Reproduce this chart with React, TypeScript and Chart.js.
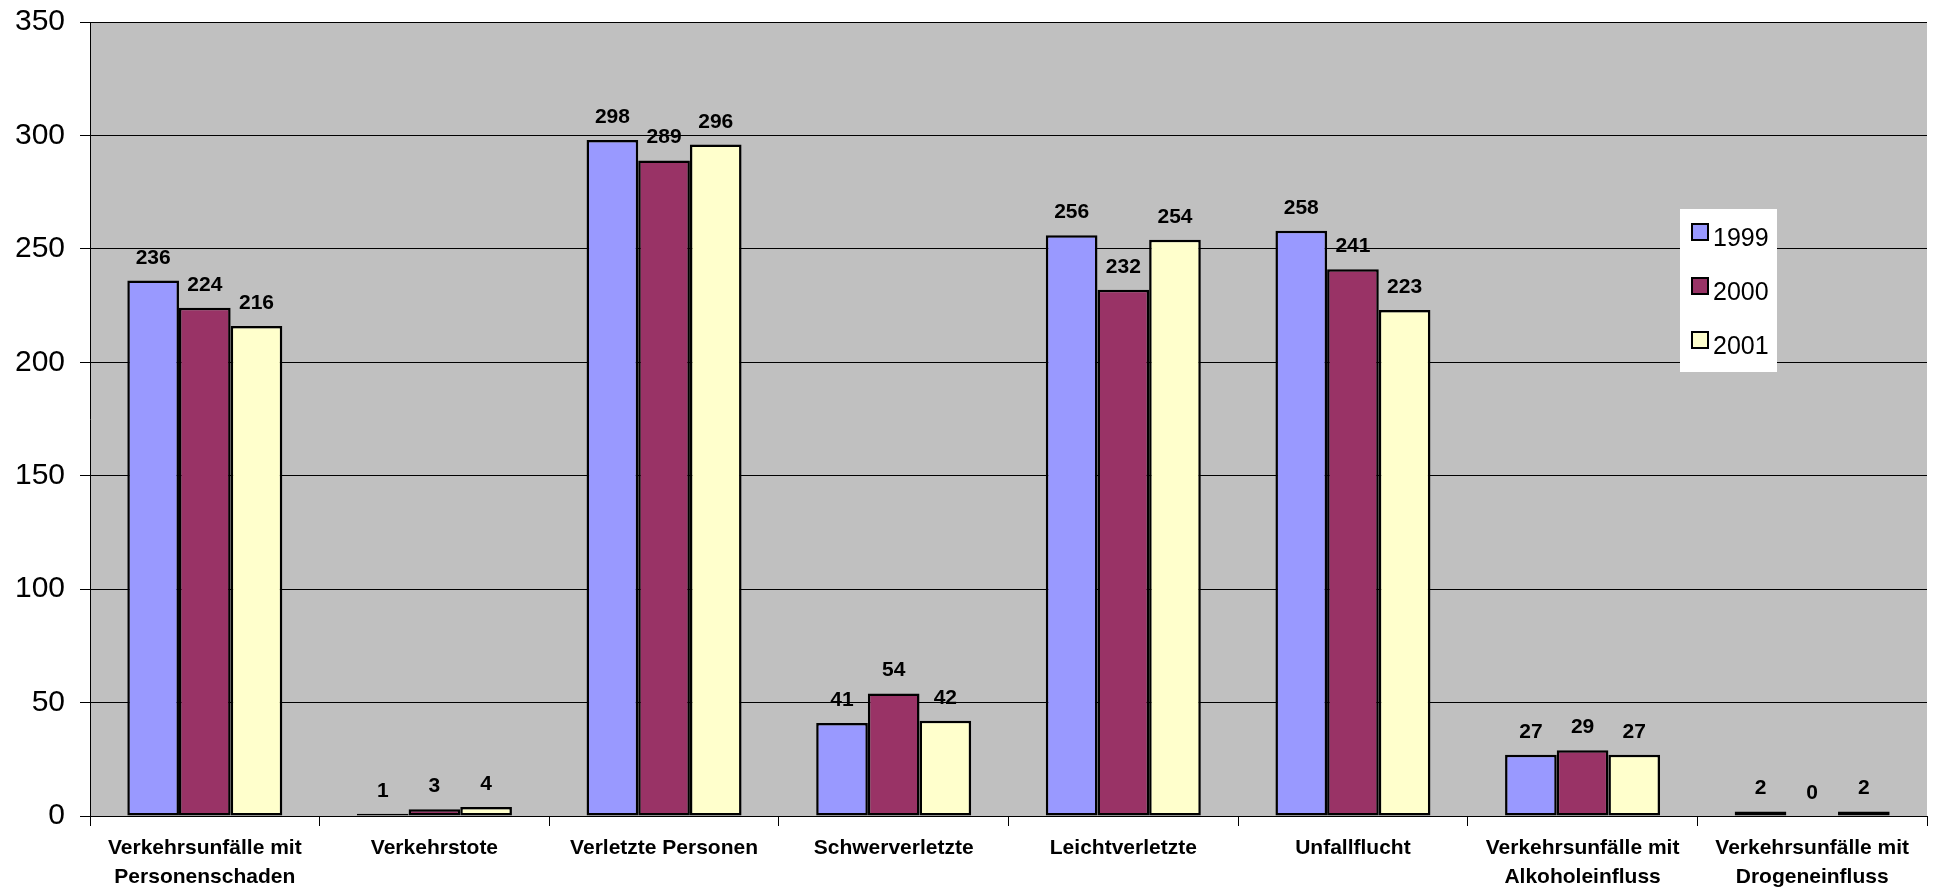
import React, { useEffect, useRef } from "react";
import { Chart, registerables } from "chart.js";

Chart.register(...registerables);

const categories: string[][] = [
  ["Verkehrsunfälle mit", "Personenschaden"],
  ["Verkehrstote"],
  ["Verletzte Personen"],
  ["Schwerverletzte"],
  ["Leichtverletzte"],
  ["Unfallflucht"],
  ["Verkehrsunfälle mit", "Alkoholeinfluss"],
  ["Verkehrsunfälle mit", "Drogeneinfluss"],
];

const seriesNames = ["1999", "2000", "2001"];
const values1999 = [236, 1, 298, 41, 256, 258, 27, 2];
const values2000 = [224, 3, 289, 54, 232, 241, 29, 0];
const values2001 = [216, 4, 296, 42, 254, 223, 27, 2];
const seriesColors = ["#9999FF", "#993366", "#FFFFCC"];

const yMin = 0;
const yMax = 350;
const yStep = 50;

const FONT = "'Liberation Sans', Arial, Helvetica, sans-serif";

const plotBg = {
  id: "plotBg",
  beforeDraw(chart: any) {
    const { ctx, chartArea } = chart;
    ctx.save();
    ctx.fillStyle = "#C0C0C0";
    ctx.fillRect(chartArea.left, chartArea.top, chartArea.right - chartArea.left, chartArea.bottom - chartArea.top);
    ctx.restore();
  },
};

const dataLabels = {
  id: "dataLabels",
  afterDatasetsDraw(chart: any) {
    const { ctx } = chart;
    ctx.save();
    ctx.font = `bold 21px ${FONT}`;
    ctx.fillStyle = "#000";
    ctx.textAlign = "center";
    ctx.textBaseline = "alphabetic";
    chart.data.datasets.forEach((ds: any, di: number) => {
      const meta = chart.getDatasetMeta(di);
      meta.data.forEach((el: any, i: number) => {
        ctx.fillText(String(ds.data[i]), el.x, el.y - 17);
      });
    });
    ctx.restore();
  },
};

const innerLegend = {
  id: "innerLegend",
  afterDraw(chart: any) {
    const { ctx, chartArea } = chart;
    const boxX = chartArea.right - 247;
    const boxY = chartArea.top + 187;
    const boxW = 97;
    const boxH = 163;
    ctx.save();
    ctx.fillStyle = "#FFFFFF";
    ctx.fillRect(boxX, boxY, boxW, boxH);
    ctx.font = `25px ${FONT}`;
    ctx.textAlign = "left";
    ctx.textBaseline = "alphabetic";
    chart.data.datasets.forEach((ds: any, i: number) => {
      const sy = boxY + 15 + i * 54;
      ctx.fillStyle = ds.backgroundColor;
      ctx.fillRect(boxX + 12, sy, 16, 16);
      ctx.strokeStyle = "#000";
      ctx.lineWidth = 2;
      ctx.strokeRect(boxX + 12, sy, 16, 16);
      ctx.fillStyle = "#000";
      ctx.fillText(ds.label, boxX + 33, sy + 22);
    });
    ctx.restore();
  },
};

export default function App() {
  const canvasRef = useRef<HTMLCanvasElement | null>(null);

  useEffect(() => {
    if (!canvasRef.current) return;
    const allValues = [values1999, values2000, values2001];
    const chart = new Chart(canvasRef.current, {
      type: "bar",
      data: {
        labels: categories,
        datasets: seriesNames.map((name, i) => ({
          label: name,
          data: allValues[i],
          backgroundColor: seriesColors[i],
          borderColor: "#000000",
          borderWidth: 2.5,
          borderSkipped: false,
          categoryPercentage: 0.675,
          barPercentage: 1,
        })),
      },
      options: {
        responsive: false,
        animation: false,
        devicePixelRatio: 1,
        layout: { padding: { top: 22, right: 10, left: 0, bottom: 0 } },
        plugins: {
          legend: { display: false },
          tooltip: { enabled: false },
        },
        scales: {
          x: {
            grid: {
              display: true,
              drawOnChartArea: false,
              drawTicks: true,
              tickLength: 10,
              color: "#000",
              lineWidth: 1,
              offset: true,
            },
            border: { display: true, color: "#000", width: 1 },
            ticks: {
              color: "#000",
              font: { family: FONT, size: 21, weight: "bold", lineHeight: 1.38 },
              maxRotation: 0,
              minRotation: 0,
              autoSkip: false,
              padding: 8,
            },
            afterFit(scale: any) {
              scale.height = 74;
              scale.paddingLeft = 0;
              scale.paddingRight = 0;
            },
          },
          y: {
            min: yMin,
            max: yMax,
            ticks: {
              stepSize: yStep,
              color: "#000",
              font: { family: FONT, size: 30 },
              padding: 15,
            },
            grid: {
              color: "#000",
              lineWidth: 1,
              tickLength: 10,
            },
            border: { display: true, color: "#000", width: 1 },
            afterFit(scale: any) {
              scale.width = 90;
              scale.paddingTop = 0;
              scale.paddingBottom = 0;
            },
          },
        },
      },
      plugins: [plotBg, dataLabels, innerLegend],
    });
    return () => chart.destroy();
  }, []);

  return (
    <div style={{ position: "absolute", left: 0, top: 0, width: 1937, height: 890, background: "#fff" }}>
      <canvas ref={canvasRef} width={1937} height={890} style={{ width: 1937, height: 890, display: "block" }} />
    </div>
  );
}
